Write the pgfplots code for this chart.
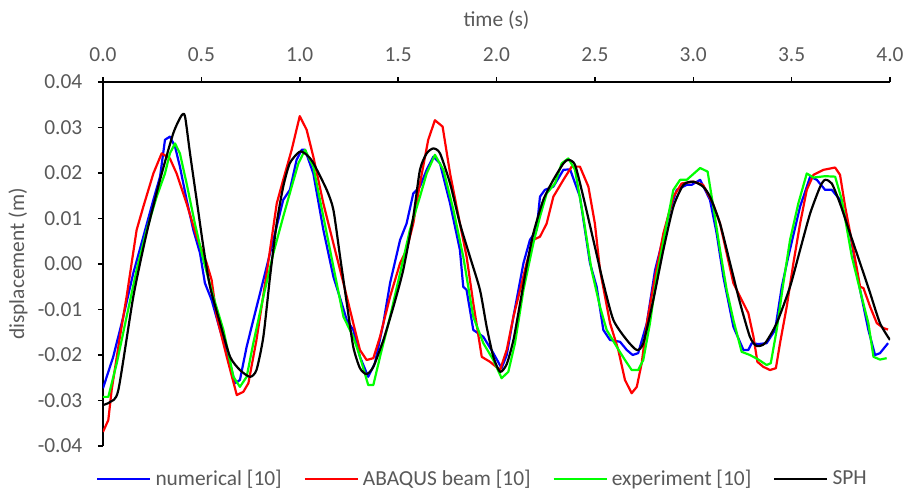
\documentclass[border=0pt]{standalone}
\usepackage{fontspec}
\setmainfont{Carlito}
\usepackage{pgfplots}
\pgfplotsset{compat=1.18}
\newcommand\fsz{\fontsize{10.7}{12.8}\selectfont}
\definecolor{cblue}{RGB}{0,0,255}
\definecolor{cred}{RGB}{255,0,0}
\definecolor{cgreen}{RGB}{0,255,0}

\begin{document}
\begin{tikzpicture}
\begin{axis}[
    name=ax,
    scale only axis, width=393.5pt, height=182pt,
    xmin=0, xmax=4, ymin=-0.04, ymax=0.04,
    axis x line=top, axis y line=left,
    axis line style={-, line width=0.75pt, black},
    tick style={black, line width=0.75pt},
    tick align=outside, major tick length=2.5pt,
    scaled y ticks=false, scaled x ticks=false,
    xtick={0,0.5,1,1.5,2,2.5,3,3.5,4},
    xticklabels={0.0,0.5,1.0,1.5,2.0,2.5,3.0,3.5,4.0},
    ytick={-0.04,-0.03,-0.02,-0.01,0,0.01,0.02,0.03,0.04},
    yticklabels={-0.04,-0.03,-0.02,-0.01,0.00,0.01,0.02,0.03,0.04},
    tick label style={font=\fsz, text=black!65},
    xticklabel style={yshift=4pt},
    yticklabel style={xshift=-4.3pt},
    xlabel={time (s)}, ylabel={displacement (m)},
    label style={font=\fsz, text=black!65},
    xlabel style={at={(axis description cs:0.5,1)}, anchor=center, yshift=31pt},
    ylabel style={at={(axis description cs:0,0.5)}, anchor=center, rotate=0, yshift=42.5pt},
    legend style={at={(0.4835,0)}, anchor=center, yshift=-16.5pt, draw=none,
        font=\fsz, text=black!65, legend columns=-1,
        /tikz/every even column/.append style={column sep=9pt}},
    legend image code/.code={\draw[#1] (0pt,0pt) -- (26.5pt,0pt);},
    every axis plot/.append style={line width=1.1pt, line join=round},
]
% numerical [10]
\addplot[cblue] coordinates {(0,-0.0273)(0.052,-0.0204)(0.103,-0.0116)(0.154,-0.002)(0.205,0.006)(0.256,0.0141)(0.29,0.0192)(0.315,0.0273)(0.34,0.028)(0.366,0.0258)(0.391,0.0214)(0.425,0.0141)(0.459,0.0075)(0.493,0.0024)(0.518,-0.0042)(0.552,-0.0079)(0.595,-0.0145)(0.637,-0.0204)(0.671,-0.0262)(0.696,-0.0255)(0.73,-0.0182)(0.764,-0.0123)(0.815,-0.0035)(0.866,0.0053)(0.916,0.0141)(0.95,0.0163)(0.984,0.0229)(1.01,0.0251)(1.027,0.0251)(1.069,0.0199)(1.12,0.0075)(1.171,-0.0028)(1.213,-0.0086)(1.239,-0.0123)(1.272,-0.0145)(1.306,-0.0204)(1.348,-0.0248)(1.382,-0.0218)(1.425,-0.013)(1.459,-0.0042)(1.51,0.0053)(1.543,0.0089)(1.577,0.0155)(1.611,0.017)(1.645,0.0207)(1.679,0.0236)(1.713,0.0221)(1.764,0.0133)(1.814,0.0031)(1.831,-0.005)(1.848,-0.0057)(1.882,-0.0145)(1.933,-0.016)(1.984,-0.0196)(2.026,-0.0229)(2.052,-0.0200)(2.086,-0.0116)(2.137,0.0002)(2.17,0.0053)(2.204,0.0075)(2.221,0.0148)(2.246,0.0163)(2.289,0.017)(2.34,0.0207)(2.374,0.0208)(2.424,0.0148)(2.475,0.0002)(2.509,-0.005)(2.543,-0.0145)(2.577,-0.0167)(2.628,-0.0171)(2.662,-0.0189)(2.692,-0.02)(2.72,-0.0196)(2.764,-0.013)(2.806,-0.0013)(2.832,0.0031)(2.882,0.0119)(2.916,0.0163)(2.967,0.0174)(2.992,0.0174)(3.035,0.0185)(3.085,0.0141)(3.119,0.0067)(3.153,-0.0028)(3.204,-0.0138)(3.255,-0.0189)(3.28,-0.0189)(3.297,-0.0174)(3.331,-0.0176)(3.373,-0.0174)(3.416,-0.0145)(3.45,-0.005)(3.483,0.0016)(3.543,0.0126)(3.594,0.0192)(3.628,0.0185)(3.67,0.0163)(3.704,0.0163)(3.746,0.0141)(3.797,0.0067)(3.848,-0.0057)(3.89,-0.0145)(3.924,-0.02)(3.949,-0.0196)(3.99,-0.0174)};
% ABAQUS beam [10]
\addplot[cred] coordinates {(0,-0.0369)(0.027,-0.0343)(0.044,-0.0277)(0.086,-0.016)(0.12,-0.0072)(0.171,0.0075)(0.205,0.0126)(0.256,0.0199)(0.298,0.0243)(0.34,0.0232)(0.374,0.0199)(0.425,0.0133)(0.476,0.006)(0.527,0.0002)(0.552,-0.0035)(0.578,-0.0116)(0.629,-0.0204)(0.68,-0.0288)(0.713,-0.0281)(0.739,-0.0262)(0.78,-0.0167)(0.832,-0.002)(0.883,0.0133)(0.916,0.0185)(0.959,0.0251)(1.0,0.0325)(1.035,0.0295)(1.069,0.0236)(1.12,0.0133)(1.171,0.0045)(1.222,-0.0042)(1.272,-0.013)(1.306,-0.0189)(1.34,-0.0211)(1.374,-0.0207)(1.408,-0.016)(1.459,-0.0072)(1.51,0.0002)(1.543,0.0031)(1.577,0.0089)(1.611,0.0177)(1.653,0.0273)(1.687,0.0316)(1.726,0.0302)(1.764,0.0199)(1.814,0.0089)(1.848,0.0016)(1.882,-0.0086)(1.925,-0.0204)(1.967,-0.0215)(2.018,-0.0233)(2.052,-0.0189)(2.086,-0.0116)(2.12,-0.0057)(2.153,0.0002)(2.187,0.0053)(2.221,0.006)(2.255,0.0089)(2.289,0.0148)(2.34,0.0185)(2.382,0.0214)(2.424,0.0214)(2.467,0.017)(2.5,0.0089)(2.526,-0.0013)(2.577,-0.013)(2.619,-0.0189)(2.653,-0.0255)(2.687,-0.0284)(2.713,-0.027)(2.738,-0.0218)(2.764,-0.013)(2.806,-0.0028)(2.848,0.0067)(2.899,0.0148)(2.941,0.0177)(3.0,0.0181)(3.05,0.0174)(3.10,0.0133)(3.136,0.0089)(3.204,-0.0042)(3.238,-0.0072)(3.28,-0.0108)(3.306,-0.016)(3.326,-0.0215)(3.356,-0.0226)(3.39,-0.0233)(3.42,-0.0229)(3.441,-0.0174)(3.475,-0.0094)(3.509,0.0002)(3.543,0.0089)(3.577,0.0163)(3.611,0.0196)(3.662,0.0207)(3.721,0.0212)(3.746,0.0196)(3.772,0.0126)(3.814,0.0031)(3.848,-0.005)(3.865,-0.0053)(3.899,-0.0094)(3.933,-0.013)(3.967,-0.0141)(3.99,-0.0144)};
% experiment [10]
\addplot[cgreen] coordinates {(0,-0.0292)(0.027,-0.0292)(0.07,-0.0218)(0.12,-0.0116)(0.171,-0.0013)(0.222,0.0075)(0.273,0.0148)(0.315,0.0199)(0.34,0.0243)(0.366,0.0265)(0.391,0.0243)(0.425,0.0177)(0.467,0.0089)(0.51,0.0009)(0.561,-0.0072)(0.612,-0.0145)(0.663,-0.0248)(0.696,-0.027)(0.73,-0.0248)(0.764,-0.0174)(0.815,-0.0072)(0.866,0.0024)(0.916,0.0104)(0.959,0.017)(0.993,0.0221)(1.027,0.0251)(1.069,0.0214)(1.12,0.0104)(1.171,-0.0006)(1.222,-0.0116)(1.272,-0.016)(1.306,-0.0204)(1.348,-0.0266)(1.374,-0.0266)(1.408,-0.0204)(1.459,-0.0116)(1.51,-0.002)(1.56,0.0075)(1.611,0.0148)(1.645,0.0199)(1.687,0.024)(1.73,0.0207)(1.781,0.0119)(1.831,0.0016)(1.882,-0.0116)(1.933,-0.0174)(1.984,-0.0211)(2.026,-0.0251)(2.06,-0.0237)(2.094,-0.0174)(2.137,-0.0057)(2.187,0.0045)(2.221,0.0104)(2.255,0.0155)(2.297,0.0177)(2.331,0.0221)(2.365,0.0232)(2.399,0.0207)(2.441,0.0104)(2.483,-0.0013)(2.526,-0.0094)(2.56,-0.0145)(2.611,-0.0182)(2.653,-0.0211)(2.687,-0.0233)(2.72,-0.0233)(2.746,-0.0211)(2.78,-0.013)(2.814,-0.0028)(2.865,0.0089)(2.899,0.0163)(2.933,0.0185)(2.967,0.0185)(3.035,0.0211)(3.073,0.0203)(3.102,0.0126)(3.136,0.0031)(3.17,-0.0057)(3.204,-0.0123)(3.246,-0.0193)(3.288,-0.02)(3.331,-0.021)(3.373,-0.0222)(3.394,-0.0218)(3.424,-0.0145)(3.458,-0.0042)(3.492,0.0053)(3.534,0.0133)(3.577,0.0199)(3.611,0.019)(3.67,0.0193)(3.721,0.0192)(3.755,0.0141)(3.806,0.0016)(3.856,-0.0072)(3.89,-0.013)(3.916,-0.0204)(3.949,-0.021)(3.983,-0.0207)};
% SPH
\addplot[black, smooth, tension=0.4] coordinates {(0,-0.031)(0.037,-0.0303)(0.078,-0.0277)(0.154,-0.0072)(0.222,0.0068)(0.29,0.0185)(0.357,0.0287)(0.40,0.0327)(0.417,0.0324)(0.442,0.0244)(0.476,0.0141)(0.51,0.0038)(0.544,-0.005)(0.595,-0.013)(0.646,-0.0204)(0.696,-0.0233)(0.747,-0.0248)(0.78,-0.0233)(0.815,-0.016)(0.849,-0.0028)(0.883,0.009)(0.916,0.017)(0.95,0.0222)(1.0,0.0247)(1.035,0.0240)(1.069,0.0222)(1.137,0.0163)(1.171,0.0119)(1.205,0.0016)(1.239,-0.0086)(1.272,-0.0182)(1.306,-0.0229)(1.34,-0.0242)(1.374,-0.0226)(1.425,-0.0167)(1.476,-0.0094)(1.526,-0.0013)(1.577,0.0104)(1.611,0.0207)(1.645,0.0243)(1.679,0.0254)(1.713,0.0243)(1.764,0.0177)(1.814,0.0089)(1.865,0.0016)(1.916,-0.0057)(1.95,-0.0138)(1.984,-0.0204)(2.018,-0.0237)(2.052,-0.0220)(2.086,-0.0167)(2.12,-0.0086)(2.153,-0.0006)(2.187,0.0067)(2.238,0.0141)(2.289,0.0185)(2.34,0.0221)(2.365,0.0229)(2.399,0.0218)(2.441,0.0148)(2.492,0.0053)(2.543,-0.0042)(2.594,-0.0123)(2.662,-0.0167)(2.713,-0.0189)(2.746,-0.0174)(2.797,-0.0079)(2.848,0.0031)(2.899,0.0126)(2.95,0.0174)(3.0,0.0181)(3.05,0.017)(3.085,0.0148)(3.136,0.0089)(3.187,0.0002)(3.238,-0.0086)(3.288,-0.016)(3.322,-0.018)(3.365,-0.0174)(3.424,-0.013)(3.492,-0.005)(3.543,0.0031)(3.594,0.0111)(3.645,0.017)(3.67,0.0185)(3.704,0.0177)(3.746,0.0133)(3.797,0.0067)(3.848,0.0002)(3.899,-0.0064)(3.949,-0.013)(4.0,-0.0167)};
\legend{numerical [10],ABAQUS beam [10],experiment [10],SPH}
\end{axis}
\pgfresetboundingbox
\path ([shift={(-51.5pt,-22.5pt)}]ax.south west) rectangle ([shift={(7pt,41pt)}]ax.north east);
\end{tikzpicture}
\end{document}
